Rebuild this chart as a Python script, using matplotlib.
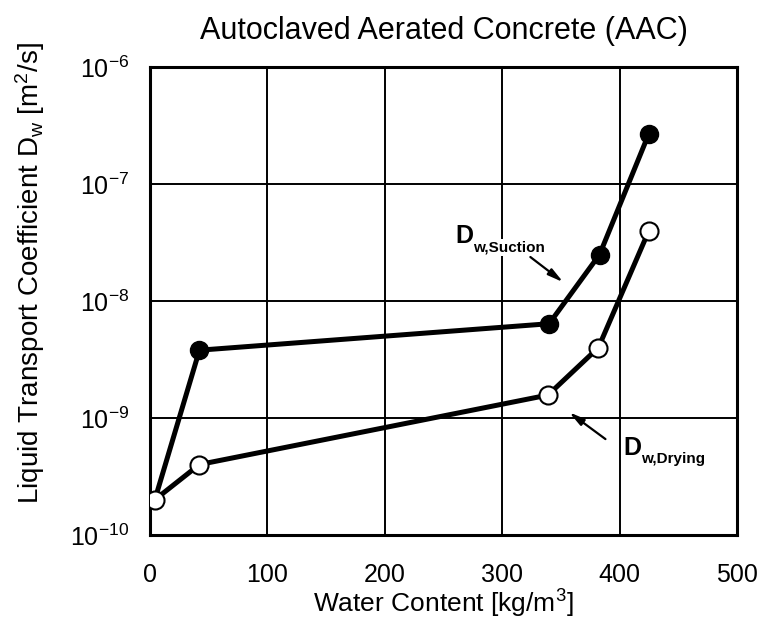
import matplotlib.pyplot as plt
import numpy as np

plt.rcParams['font.family'] = ['Liberation Sans', 'DejaVu Sans']
plt.rcParams['mathtext.fontset'] = 'custom'
plt.rcParams['mathtext.rm'] = 'Liberation Sans'
plt.rcParams['mathtext.it'] = 'Liberation Sans'
plt.rcParams['mathtext.bf'] = 'Liberation Sans:bold'

# water content [kg/m3] and liquid transport coefficient [m2/s]
suction_w = [4, 42, 340, 383, 425]
suction_d = [2.0e-10, 3.8e-9, 6.4e-9, 2.5e-8, 2.7e-7]
drying_w = [4, 42, 339, 382, 425]
drying_d = [2.0e-10, 4.0e-10, 1.57e-9, 4.0e-9, 4.0e-8]

x_ticks = [0, 100, 200, 300, 400, 500]
y_ticks = [1e-10, 1e-9, 1e-8, 1e-7, 1e-6]
y_labels = [r'10$^{-10}$', r'10$^{-9}$', r'10$^{-8}$', r'10$^{-7}$', r'10$^{-6}$']

fig = plt.figure(figsize=(7.7, 6.22), dpi=100)
ax = fig.add_axes([0.195, 0.140, 0.762, 0.752])

ax.set_yscale('log')
ax.set_xlim(0, 500)
ax.set_ylim(1e-10, 1e-6)
ax.set_xticks(x_ticks)
ax.set_yticks(y_ticks)
ax.set_yticklabels(y_labels)
ax.minorticks_off()
ax.tick_params(labelsize=18, length=0)
ax.tick_params(axis='x', pad=20)
ax.tick_params(axis='y', pad=15)
ax.grid(True, color='black', linewidth=1.4)
for s in ax.spines.values():
    s.set_linewidth(2.2)

# suction curve (first point hidden under the drying marker)
ax.plot(suction_w, suction_d, '-', color='black', linewidth=3.6, zorder=3)
ax.plot(suction_w[1:], suction_d[1:], 'o', color='black', markersize=13, zorder=4)
ax.plot(drying_w, drying_d, '-o', color='black', linewidth=3.6, markersize=13,
        markerfacecolor='white', markeredgecolor='black', markeredgewidth=1.5, zorder=5)

# curve labels: big D with a small bold subscript
bbox = dict(facecolor='white', edgecolor='none', pad=1)
head = dict(arrowstyle='-|>,head_length=0.9,head_width=0.22', color='black', lw=1.6,
            shrinkA=0, shrinkB=0)
labels = [('w,Suction', 260, 3.13e-8, (324, 2.38e-8), (352, 1.45e-8)),
          ('w,Drying', 403, 4.83e-10, (388, 6.6e-10), (357, 1.12e-9))]
for sub, tx, ty, a0, a1 in labels:
    d = ax.text(tx, ty, 'D', fontsize=18, fontweight='bold', va='baseline', ha='left',
                bbox=bbox, zorder=6)
    ax.annotate(sub, xy=(1, 0), xycoords=d, xytext=(0, -2.5), textcoords='offset points',
                fontsize=11, fontweight='bold', va='baseline', ha='left', bbox=bbox, zorder=6)
    ax.annotate('', xy=a1, xytext=a0, arrowprops=head, zorder=6)

ax.set_xlabel(r'Water Content [kg/m$^3$]', fontsize=19, labelpad=1)
ax.set_ylabel(r'Liquid Transport Coefficient D$_w$ [m$^2$/s]', fontsize=20)
ax.yaxis.set_label_coords(-0.176, 0.56)
ax.set_title('Autoclaved Aerated Concrete (AAC)', fontsize=22, pad=20)

fig.savefig('out.png', dpi=100)
